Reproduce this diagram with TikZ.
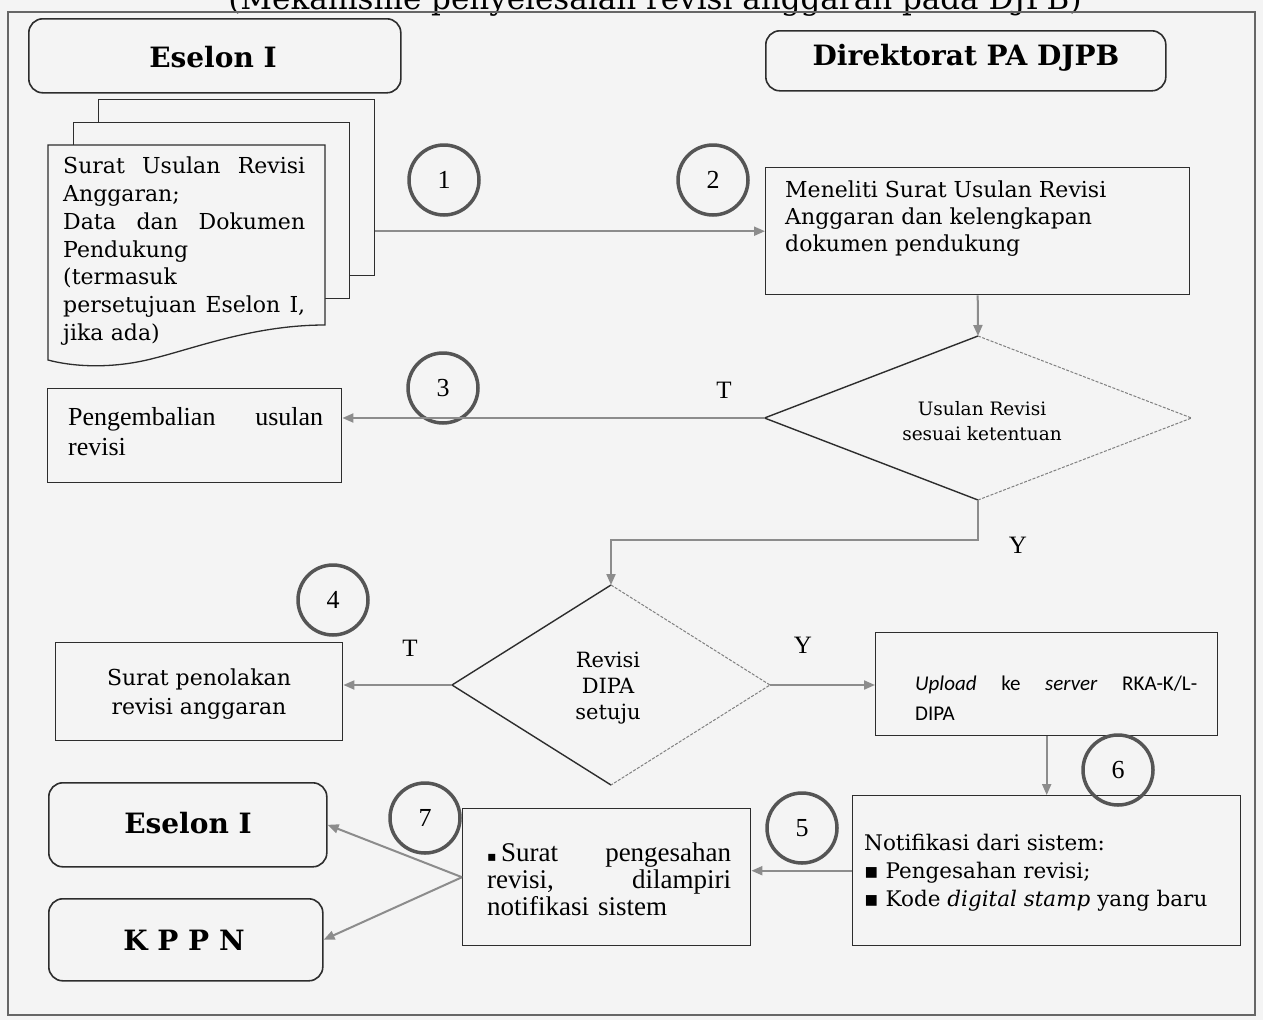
\documentclass[tikz,border=0pt]{standalone}
\usepackage{fontspec}
\setmainfont{DejaVu Serif}
\newfontfamily\tmsfont{Liberation Serif}
\newfontfamily\calfont{Carlito}
\newfontfamily\symfont{DejaVu Sans}
\usetikzlibrary{arrows.meta,shapes.geometric}
\definecolor{bgc}{RGB}{244,244,244}
\definecolor{ink}{RGB}{45,45,45}
\definecolor{arrc}{RGB}{140,140,140}
\definecolor{ringc}{RGB}{85,85,85}
\newcommand{\sqb}{{\symfont ▪}}
\begin{document}
\begin{tikzpicture}[x=1pt,y=-1pt,
  box/.style={draw=ink, line width=1.4pt, inner sep=0pt, anchor=north west},
  hdr/.style={draw=ink, line width=1.6pt, rounded corners=14pt, inner sep=0pt, anchor=north west},
  sheet/.style={draw=ink, line width=1.3pt, fill=bgc},
  num/.style={circle, draw=ringc, line width=3.5pt, minimum size=70pt, inner sep=0pt, font=\tmsfont\fontsize{26}{26}\selectfont},
  arr/.style={draw=arrc, line width=2pt, -{Triangle[length=11pt,width=9pt]}},
  yt/.style={font=\tmsfont\fontsize{25}{25}\selectfont},
  txt/.style={inner sep=0pt, anchor=north west, align=left},
  ctxt/.style={inner sep=0pt, align=center},
  dia/.style={diamond, draw=none, inner sep=0pt, outer sep=0pt},
  dsolid/.style={draw=ink, line width=1.4pt},
  dlight/.style={draw=black!50, line width=1pt, dash pattern=on 3pt off 1.5pt},
  hfont/.style={font=\bfseries\fontsize{28}{30}\selectfont},
]
\useasboundingbox (0,0) rectangle (1263,1020);
\clip (0,0) rectangle (1263,1020);
\fill[bgc] (0,0) rectangle (1263,1020);
% title (cut off at top, as in the source)
\node[inner sep=0pt, anchor=base, font=\fontsize{31}{32}\selectfont] (title) at (655,9) {(Mekanisme penyelesaian revisi anggaran pada DJPB)};
% outer frame
\draw[draw=black!60, line width=1.2pt] (8,12) rectangle (1255,1015);

% headers
\node[hdr, minimum width=372pt, minimum height=74pt] (hA) at (28,18) {};
\node[hfont] (hAt) at (213,57) {Eselon I};
\node[hdr, minimum width=400pt, minimum height=60pt] (hB) at (765,30) {};
\node[hfont] (hBt) at (966,58) {Direktorat PA DJPB};

% document stack
\node[box, fill=bgc, minimum width=276pt, minimum height=176pt] (docb) at (98,99) {};
\node[box, fill=bgc, minimum width=276pt, minimum height=176pt] (docm) at (73,122) {};
\draw[sheet] (48,145) -- (325,145) -- (325,325)
  .. controls (255,325) and (195,348) .. (155,358)
  .. controls (110,370) and (70,366) .. (48,360) -- cycle;
\node[txt, text width=242pt, font=\fontsize{22}{27.7}\selectfont] (doct) at (63,157)
 {Surat\hfill Usulan\hfill Revisi\\Anggaran;\\Data\hfill dan\hfill Dokumen\\Pendukung\\(termasuk\\persetujuan\hfill Eselon\hfill I,\\jika ada)};

% box 2
\node[box, minimum width=424pt, minimum height=127pt] (b2) at (765,167) {};
\node[txt, font=\fontsize{22}{26.7}\selectfont] (b2t) at (785,181)
 {Meneliti Surat Usulan Revisi\\Anggaran dan kelengkapan\\dokumen pendukung};

% diamond 1
\node[dia, minimum width=427pt, minimum height=164pt] (d1) at (978,418) {};
\draw[dsolid] (d1.north) -- (d1.west) -- (d1.south);
\draw[dlight] (d1.north) -- (d1.east) -- (d1.south);
\node[ctxt, font=\fontsize{18.5}{25}\selectfont] (d1t) at (982,421) {Usulan Revisi\\sesuai ketentuan};

% Pengembalian
\node[box, minimum width=294pt, minimum height=94pt] (bP) at (47,388) {};
\node[txt, text width=255pt, font=\tmsfont\fontsize{26}{30}\selectfont] (bPt) at (68,407)
 {Pengembalian\hfill usulan\\revisi};

% diamond 2
\node[dia, minimum width=318pt, minimum height=200pt] (d2) at (611,685) {};
\draw[dsolid] (d2.north) -- (d2.west) -- (d2.south);
\draw[dlight] (d2.north) -- (d2.east) -- (d2.south);
\node[ctxt, font=\fontsize{21}{26}\selectfont] (d2t) at (608,688) {Revisi\\DIPA\\setuju};

% Surat penolakan
\node[box, minimum width=287pt, minimum height=98pt] (bR) at (55,642) {};
\node[ctxt, font=\fontsize{22}{29}\selectfont] (bRt) at (199,694) {Surat penolakan\\revisi anggaran};

% Upload
\node[box, minimum width=342pt, minimum height=103pt] (bU) at (875,632) {};
\node[txt, text width=282pt, font=\calfont\fontsize{21}{30}\selectfont] (bUt) at (915,676)
 {\textit{Upload}\hfill ke\hfill \textit{server}\hfill RKA-K/L-\\DIPA};

% Notifikasi
\node[box, minimum width=388pt, minimum height=150pt] (bN) at (852,795) {};
\node[txt, font=\fontsize{21.5}{28}\selectfont] (bNt) at (864,834)
 {Notifikasi dari sistem:\\\sqb\ Pengesahan revisi;\\\sqb\ Kode \textit{digital stamp} yang baru};

% Surat pengesahan
\node[box, minimum width=288pt, minimum height=137pt] (bS) at (462,808) {};
\node[txt, text width=244pt, font=\tmsfont\fontsize{27}{27}\selectfont] (bSt) at (487,843)
 {{\symfont\fontsize{14}{14}\selectfont ▪}\,Surat\hfill pengesahan\\revisi,\hfill dilampiri\\notifikasi sistem};

% bottom headers
\node[hdr, minimum width=278pt, minimum height=84pt] (hC) at (48,782) {};
\node[hfont] (hCt) at (188,823) {Eselon I};
\node[hdr, minimum width=274pt, minimum height=82pt] (hD) at (48,898) {};
\node[hfont] (hDt) at (184,940) {K P P N};

% step circles
\node[num] (c1) at (444,180) {1};
\node[num] (c2) at (713,180) {2};
\node[num] (c3) at (443,388) {3};
\node[num] (c4) at (333,600) {4};
\node[num] (c5) at (802,828) {5};
\node[num] (c6) at (1118,770) {6};
\node[num] (c7) at (425,818) {7};

% labels
\node[yt] (t1) at (724,390) {T};
\node[yt] (y1) at (1018,545) {Y};
\node[yt] (t2) at (410,648) {T};
\node[yt] (y2) at (803,645) {Y};

% connectors
\draw[arr] (docb.east |- b2.west) -- (b2.west);
\draw[arr] (b2.south) -- (d1.north);
\draw[arr] (d1.west) -- (bP.east |- d1.west);
\draw[arr] (d1.south) -- ++(0,40) -| (d2.north);
\draw[arr] (d2.west) -- (bR.east |- d2.west);
\draw[arr] (d2.east) -- (bU.west |- d2.east);
\draw[arr] (bU.south) -- (bU.south |- bN.north);
\draw[arr] (bN.west) -- (bS.east |- bN.west);
\draw[arr] (bS.west) -- (hC.east);
\draw[arr] (bS.west) -- (hD.east);
\end{tikzpicture}
\end{document}
